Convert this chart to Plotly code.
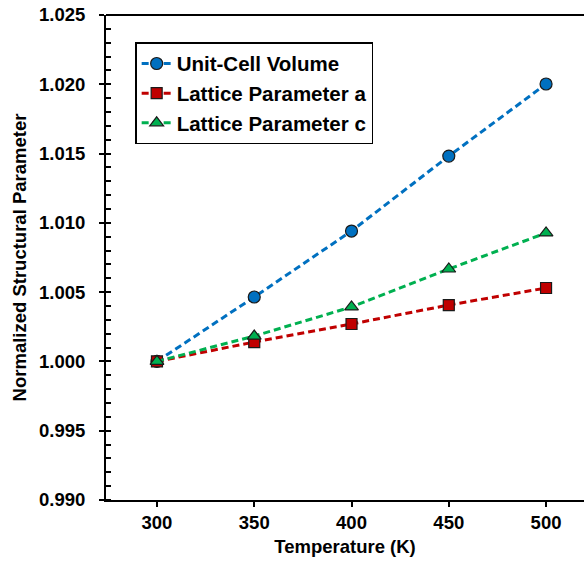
import plotly.graph_objects as go

temperature = [300, 350, 400, 450, 500]
volume = [1.0000, 1.00465, 1.00941, 1.01482, 1.02002]
param_a = [1.0000, 1.00140, 1.00270, 1.00407, 1.00530]
param_c = [1.0000, 1.00183, 1.00393, 1.00667, 1.00927]

series = [
    ("Unit-Cell Volume", volume, "#0070C0", "circle", 12),
    ("Lattice Parameter a", param_a, "#C00000", "square", 11),
    ("Lattice Parameter c", param_c, "#00B050", "triangle-up", 12),
]

fig = go.Figure()
for name, vals, color, sym, size in series:
    fig.add_trace(go.Scatter(
        x=temperature, y=vals, name=name, mode="lines+markers",
        line=dict(color=color, width=3, dash="7px,4px"),
        marker=dict(symbol=sym, size=size, color=color,
                    line=dict(color="#1a1a1a", width=1.2)),
    ))

font = "Liberation Sans, Arial, sans-serif"
fig.update_layout(
    width=584, height=565,
    margin=dict(l=106, r=0, t=15, b=65),
    plot_bgcolor="white", paper_bgcolor="white",
    font=dict(family=font, color="black", size=18),
    showlegend=True,
    legend=dict(
        x=0.061, y=0.944, xanchor="left", yanchor="top",
        bgcolor="white", bordercolor="black", borderwidth=1.5,
        font=dict(family=font, size=20.5, color="black", weight="bold"),
        itemwidth=30, tracegroupgap=0,
    ),
    xaxis=dict(
        range=[273.8, 519.5], tickvals=[300, 350, 400, 450, 500],
        showgrid=False, zeroline=False,
        showline=True, linecolor="black", linewidth=2,
        ticks="outside", ticklen=5, tickwidth=1.5, tickcolor="black",
        tickfont=dict(size=18.5, weight="bold"),
        title=dict(text="Temperature (K)", font=dict(size=18.5, weight="bold"), standoff=8),
    ),
    yaxis=dict(
        range=[0.990, 1.025], dtick=0.005, tickformat=".3f",
        showgrid=False, zeroline=False,
        showline=True, linecolor="black", linewidth=2,
        ticks="outside", ticklen=5, tickwidth=1.5, tickcolor="black",
        tickfont=dict(size=18.5, weight="bold"),
        ticklabelstandoff=10,
        minor=dict(dtick=0.001, ticks="inside", ticklen=5, tickwidth=1.5, tickcolor="black"),
        title=dict(text="Normalized Structural Parameter", font=dict(size=18.5, weight="bold"), standoff=8),
    ),
)
fig.add_shape(type="line", xref="paper", yref="paper", x0=0, x1=1, y0=1, y1=1,
              line=dict(color="black", width=2))

fig.write_html("out.html")
